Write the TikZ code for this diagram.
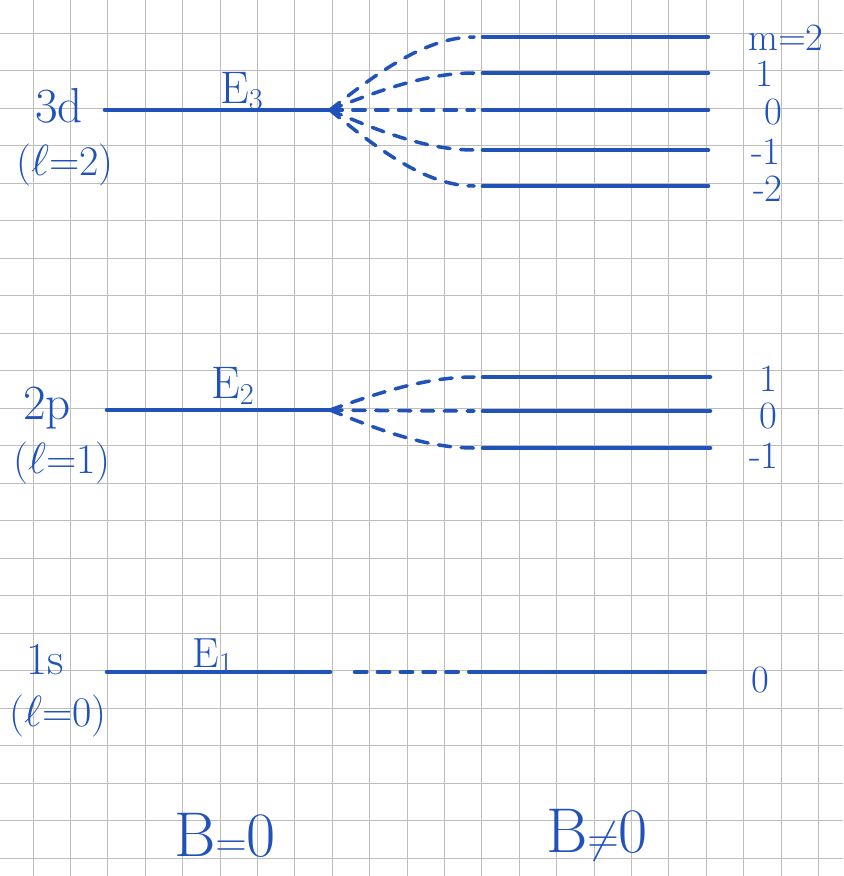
\documentclass[tikz,border=0pt]{standalone}
\usepackage{amsmath}
\usepackage{tikz}
\usetikzlibrary{positioning}
\definecolor{InkBlue}{HTML}{2152BA}
\definecolor{GridGray}{HTML}{BDBDBD}

\begin{document}
\begin{tikzpicture}[
    x=0.02cm, y=-0.02cm,
    paper/.style={draw=GridGray, line width=0.5pt},
    level/.style={draw=InkBlue, line width=2.6pt, line cap=round},
    fan/.style={draw=InkBlue, line width=2pt, line cap=round, dash pattern=on 7pt off 6pt, shorten >=5pt},
    lab/.style={text=InkBlue, inner sep=0pt, font=\fontsize{24}{28}\selectfont},
    mlab/.style={lab, font=\fontsize{22}{24}\selectfont},
    big/.style={lab, font=\fontsize{36}{40}\selectfont}
  ]
    \useasboundingbox (0,0) rectangle (843,876);
    \foreach \k in {0,...,21} \draw[paper] ({33+37.4*\k},0) -- ({33+37.4*\k},876);
    \foreach \k in {0,...,22} \draw[paper] (0,{33+37.5*\k}) -- (843,{33+37.5*\k});

    % 3d level and its five sublevels
    \coordinate (d0) at (105,110);
    \coordinate (d1) at (330,110);
    \draw[level] (d0) -- (d1);
    \foreach \ye [count=\i] in {37,73,110,150,186} {
      \coordinate (dl\i) at (483,\ye);
      \coordinate (dr\i) at (708,\ye);
      \draw[level] (dl\i) -- (dr\i);
      \draw[fan] (d1) .. controls (385,{110+0.6*(\ye-110)}) and (430,\ye) .. (dl\i);
    }
    \node[lab, font=\fontsize{28}{30}\selectfont] (nd) at (59,106) {3d};
    \node[lab] (ld) at (65,165) {($\ell$=2)};
    \node[lab, font=\fontsize{26}{28}\selectfont] (e3) at (242,91) {E$_3$};
    \node[mlab] (md1) at (786,38) {m=2};
    \node[mlab] (md2) at (764,74) {1};
    \node[mlab] (md3) at (773,112) {0};
    \node[mlab] (md4) at (766,152) {-1};
    \node[mlab] (md5) at (768,189) {-2};

    % 2p level and its three sublevels
    \coordinate (p0) at (107,410);
    \coordinate (p1) at (330,410);
    \draw[level] (p0) -- (p1);
    \foreach \ye [count=\i] in {377,411,448} {
      \coordinate (pl\i) at (483,\ye);
      \coordinate (pr\i) at (710,\ye);
      \draw[level] (pl\i) -- (pr\i);
      \draw[fan] (p1) .. controls (385,{410+0.6*(\ye-410)}) and (430,\ye) .. (pl\i);
    }
    \node[lab, font=\fontsize{28}{30}\selectfont] (np) at (47,408) {2p};
    \node[lab] (lp) at (62,463) {($\ell$=1)};
    \node[lab, font=\fontsize{26}{28}\selectfont] (e2) at (233,386) {E$_2$};
    \node[mlab] (mp1) at (768,379) {1};
    \node[mlab] (mp2) at (768,416) {0};
    \node[mlab] (mp3) at (764,456) {-1};

    % 1s level, no splitting
    \coordinate (s0) at (107,672);
    \coordinate (s1) at (330,672);
    \coordinate (sl) at (483,672);
    \coordinate (sr) at (705,672);
    \draw[level] (s0) -- (s1);
    \draw[fan, shorten <=14pt, shorten >=0pt] (s1) -- (sl);
    \draw[level] (sl) -- (sr);
    \node[lab, font=\fontsize{26}{28}\selectfont] (ns) at (45,660) {1s};
    \node[lab] (ls) at (58,716) {($\ell$=0)};
    \node[lab, font=\fontsize{24}{26}\selectfont] (e1) at (213,656) {E$_1$};
    \node[mlab] (ms1) at (760,680) {0};

    \node[big] (b0) at (225,835) {B$=$0};
    \node[big] (b1) at (597,835) {B$\neq$0};
  \end{tikzpicture}
\end{document}
